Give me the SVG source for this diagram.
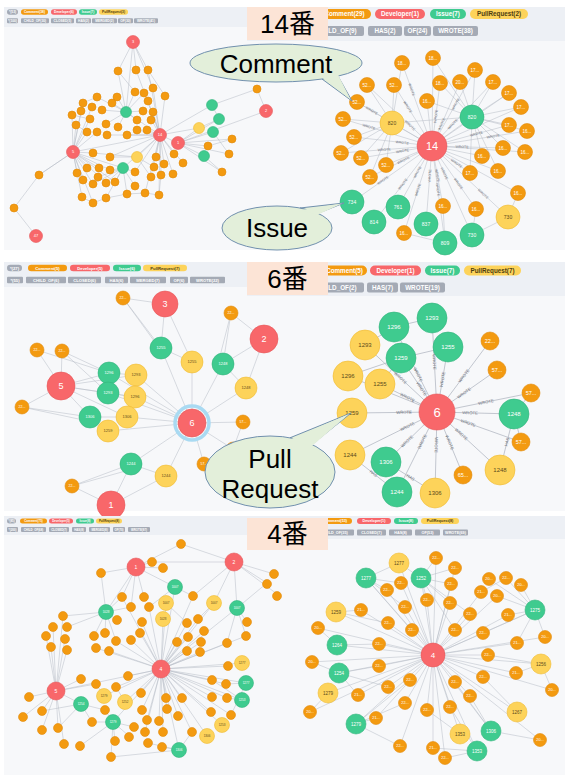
<svg xmlns="http://www.w3.org/2000/svg" width="568" height="780" viewBox="0 0 568 780">
<style>
.bg{fill:#f7f8fa}.hd{fill:#edf0f5}
.o{fill:#f39a10;stroke:#e0890a;stroke-width:.6}
.r{fill:#f8676a;stroke:#e65759;stroke-width:.6}
.g{fill:#3fcb8f;stroke:#32b47c;stroke-width:.6}
.y{fill:#fdd35a;stroke:#f0bb30;stroke-width:.6}
.e{stroke:#b5bac4;stroke-width:.5;fill:none}
.e2{stroke:#aab0bb;stroke-width:.7;fill:none}
.t{font-family:"Liberation Sans",Arial,sans-serif;text-anchor:middle;fill:#fff}
.k{fill:#5b4a1c}
.el{font-family:"Liberation Sans",Arial,sans-serif;text-anchor:middle;fill:#6d717a}
.a3{font-size:3px}.a35{font-size:3.5px}.a38{font-size:3.8px}.a4{font-size:4px}.a42{font-size:4.2px}.a45{font-size:4.5px}.a5{font-size:5px}.a55{font-size:5.5px}.a6{font-size:6px}.a8{font-size:8px}.a9{font-size:9px}.a11{font-size:11px}.a13{font-size:13px}
.lg{font-family:"Liberation Sans",Arial,sans-serif;font-weight:bold;text-anchor:middle;fill:#fff}
.lk{fill:#4d3d10}
.pg{fill:#a4aab5}.po{fill:#f39a10}.pr{fill:#f8676a}.pn{fill:#3fcb8f}.py{fill:#fdd35a}
.box{fill:#fce4d6}
.big{font-family:"Liberation Sans","Noto Sans CJK JP",sans-serif;font-size:26px;fill:#000;text-anchor:middle}
.cl{fill:#e3efda;stroke:#7190ae;stroke-width:1}
.cf{fill:#e3efda}
</style>
<defs>
<clipPath id="clip2"><rect x="0" y="255" width="568" height="261"/></clipPath>
</defs>
<rect width="568" height="780" fill="#fff"/>
<g id="backgrounds">
<rect class="bg" x="4" y="7" width="561" height="243"/>
<rect class="hd" x="4" y="7" width="243" height="20"/>
<rect class="hd" x="247" y="7" width="318" height="34"/>
<rect class="bg" x="4" y="262" width="561" height="249"/>
<rect class="hd" x="4" y="262" width="243" height="25"/>
<rect class="hd" x="247" y="262" width="318" height="34"/>
</g>

<g id="connectors">
<g id="c-p1l">
<path class="e" stroke-width=".4" d="M160 135L136 70M160 135L148 70M160 135L153 88M160 135L165 96M160 135L148 101M160 135L153 112M160 135L151 119M160 135L147 130M160 135L137 130M160 135L127 135M160 135L107 135M160 135L73 152M160 135L199 128M160 135L212 105M160 135L137 157M160 135L156 157M160 135L164 164M160 135L174 154M160 135L183 163M160 135L173 174M160 135L161 175M160 135L151 177M160 135L135 172M160 135L159 195M160 135L145 193M160 135L123 168M160 135L110 157M160 135L126 112M160 135L178 143M73 152L72 115M73 152L76 125M73 152L81 111M73 152L83 103M73 152L87 132M73 152L97 132M73 152L92 107M73 152L90 119M73 152L93 153M73 152L87 168M73 152L77 173M73 152L83 180M73 152L82 197M73 152L93 203M73 152L99 168M73 152L110 170M73 152L39 175M73 152L123 168M73 152L106 183M73 152L115 182M126 112L117 97M126 112L112 103M126 112L102 110M126 112L106 124M126 112L118 127M126 112L137 120M126 112L143 111M126 112L135 92M126 112L144 93M126 112L97 97M126 112L133 42M126 112L118 71M133 42L118 71M133 42L136 70M133 42L148 70M133 42L153 88M123 168L135 172M123 168L135 186M123 168L127 194M123 168L110 170M123 168L106 183M123 168L115 182M123 168L98 177M123 168L106 198M137 157L110 157M137 157L93 153M137 157L154 167M137 157L151 177M82 197L93 203L106 198L127 194L145 193L159 195L161 175M178 143L199 128M178 143L213 132M178 143L204 156M178 143L208 146M178 143L222 172M178 143L229 154M178 143L232 139M178 143L219 119M178 143L266 111M266 111L257 89L212 105M212 105L219 119M219 119L199 128M213 132L229 154M204 156L222 172M208 146L232 139M36 236L14 208L39 175L73 152M118 71L135 92M148 70L165 96M83 103L97 97M72 115L90 119M76 125L87 132M93 184L123 168M93 184L73 152"/>
</g>
<g id="c-p1r">
<path class="e" d="M357 102L392 123M367 85L392 123M394 85L392 123M343 119L392 123M354 137L392 123M341 153L392 123M361 158L392 123M386 165L392 123M370 177L392 123M402 63L392 123M433 58L472 117M440 83L472 117M460 82L472 117M475 70L472 117M493 82L472 117M509 93L472 117M521 107L472 117M509 125L472 117M527 131L472 117M503 148L472 117M525 152L472 117M482 156L472 117M498 171L472 117M470 173L472 117M427 101L472 117M518 193L508 217M476 209L472 235M443 206L445 243M404 233L445 243M508 217L472 235M392 123L472 117"/>
<path id="w1" class="e" d="M392 123L432 146"/><path id="w2" class="e" d="M352 202L432 146"/><path id="w3" class="e" d="M374 222L432 146"/><path id="w4" class="e" d="M398 207L432 146"/><path id="w5" class="e" d="M426 224L432 146"/><path id="w6" class="e" d="M357 102L432 146"/><path id="w7" class="e" d="M367 85L432 146"/><path id="w8" class="e" d="M394 85L432 146"/><path id="w9" class="e" d="M343 119L432 146"/><path id="w10" class="e" d="M354 137L432 146"/><path id="w11" class="e" d="M341 153L432 146"/><path id="w12" class="e" d="M361 158L432 146"/><path id="w13" class="e" d="M386 165L432 146"/><path id="w14" class="e" d="M370 177L432 146"/><path id="w15" class="e" d="M402 63L432 146"/><path id="w16" class="e" d="M427 101L432 146"/><path id="w17" class="e" d="M404 233L432 146"/><path id="w18" class="e" d="M433 58L432 146"/><path id="w19" class="e" d="M432 146L472 117"/><path id="w20" class="e" d="M432 146L445 243"/><path id="w21" class="e" d="M432 146L472 235"/><path id="w22" class="e" d="M432 146L508 217"/><path id="w23" class="e" d="M432 146L440 83"/><path id="w24" class="e" d="M432 146L460 82"/><path id="w25" class="e" d="M432 146L475 70"/><path id="w26" class="e" d="M432 146L493 82"/><path id="w27" class="e" d="M432 146L509 93"/><path id="w28" class="e" d="M432 146L521 107"/><path id="w29" class="e" d="M432 146L509 125"/><path id="w30" class="e" d="M432 146L470 173"/><path id="w31" class="e" d="M432 146L527 131"/><path id="w32" class="e" d="M432 146L503 148"/><path id="w33" class="e" d="M432 146L525 152"/><path id="w34" class="e" d="M432 146L482 156"/><path id="w35" class="e" d="M432 146L498 171"/><path id="w36" class="e" d="M432 146L518 193"/><path id="w37" class="e" d="M432 146L476 209"/><path id="w38" class="e" d="M432 146L443 206"/>
<g class="el a35">
<text dy="1.2"><textPath href="#w2" startOffset="37.7">WROTE</textPath></text><text dy="1.2"><textPath href="#w3" startOffset="47.6">WROTE</textPath></text><text dy="1.2"><textPath href="#w4" startOffset="39.8">WROTE</textPath></text><text dy="1.2"><textPath href="#w5" startOffset="48.2">WROTE</textPath></text><text dy="1.2"><textPath href="#w6" startOffset="17">WROTE</textPath></text><text dy="1.2"><textPath href="#w7" startOffset="59.1">WROTE</textPath></text><text dy="1.2"><textPath href="#w8" startOffset="25.9">WROTE</textPath></text><text dy="1.2"><textPath href="#w9" startOffset="27">WROTE</textPath></text><text dy="1.2"><textPath href="#w10" startOffset="48.5">WROTE</textPath></text><text dy="1.2"><textPath href="#w11" startOffset="43.3">WROTE</textPath></text><text dy="1.2"><textPath href="#w12" startOffset="42">WROTE</textPath></text><text dy="1.2"><textPath href="#w14" startOffset="37.3">WROTE</textPath></text><text dy="1.2"><textPath href="#w15" startOffset="28.3">WROTE</textPath></text><text dy="1.2"><textPath href="#w17" startOffset="45.4">WROTE</textPath></text><text dy="1.2"><textPath href="#w20" startOffset="44">WROTE</textPath></text><text dy="1.2"><textPath href="#w21" startOffset="30">WROTE</textPath></text><text dy="1.2"><textPath href="#w22" startOffset="70">WROTE</textPath></text><text dy="1.2"><textPath href="#w23" startOffset="30">WROTE</textPath></text><text dy="1.2"><textPath href="#w24" startOffset="24">WROTE</textPath></text><text dy="1.2"><textPath href="#w25" startOffset="48">WROTE</textPath></text><text dy="1.2"><textPath href="#w26" startOffset="30">WROTE</textPath></text><text dy="1.2"><textPath href="#w29" startOffset="46">WROTE</textPath></text><text dy="1.2"><textPath href="#w30" startOffset="30">WROTE</textPath></text><text dy="1.2"><textPath href="#w31" startOffset="62">WROTE</textPath></text><text dy="1.2"><textPath href="#w32" startOffset="30">WROTE</textPath></text><text dy="1.2"><textPath href="#w37" startOffset="46">WROTE</textPath></text><text dy="1.2"><textPath href="#w38" startOffset="30">WROTE</textPath></text>
</g>
</g>
<g id="c-p2l" clip-path="url(#clip2)">
<path class="e" d="M165 304L123 298M165 304L161 348M165 304L192 362M123 298L161 348M123 298L157 345M192 362L161 348M192 423L192 362M192 423L161 348M264 339L231 313M264 339L223 364M264 339L246 388M231 313L223 364M231 313L219 360M246 388L223 364M192 423L246 388M192 423L223 364M61 386L37 350M61 386L62 351M61 386L109 373M61 386L108 393M61 386L90 417M61 386L22 407M61 386L136 375M61 386L135 397M61 386L127 417M37 350L109 373M62 351L109 373M62 351L108 393M22 407L90 417M22 407L88 421M136 375L109 373M135 397L108 393M127 417L90 417M108 431L90 417M192 423L136 375M192 423L135 397M192 423L127 417M192 423L108 431M192 423L109 373M192 423L108 393M192 423L131 464M192 423L243 422M192 423L233 449M192 423L204 464M192 423L166 476M233 449L243 422M204 464L233 449M111 505L72 486M111 505L131 464M111 505L166 476M72 486L131 464M72 486L129 470M166 476L131 464"/>
</g>
<g id="c-p2r">
<path class="e2" d="M365 345L394 327M394 327L432 318M448 347L401 358M531 393L514 414M521 442L514 414M348 376L401 358M380 384L401 358"/>
<path id="v1" class="e2" d="M394 327L437 412"/><path id="v2" class="e2" d="M401 358L437 412"/><path id="v3" class="e2" d="M386 462L437 412"/><path id="v4" class="e2" d="M397 492L437 412"/><path id="v5" class="e2" d="M365 345L437 412"/><path id="v6" class="e2" d="M348 376L437 412"/><path id="v7" class="e2" d="M380 384L437 412"/><path id="v8" class="e2" d="M352 413L437 412"/><path id="v9" class="e2" d="M350 455L437 412"/><path id="v10" class="e2" d="M437 412L435 493"/><path id="v11" class="e2" d="M432 318L437 412"/><path id="v12" class="e2" d="M437 412L448 347"/><path id="v13" class="e2" d="M437 412L514 414"/><path id="v14" class="e2" d="M437 412L500 470"/><path id="v15" class="e2" d="M437 412L490 341"/><path id="v16" class="e2" d="M437 412L497 370"/><path id="v17" class="e2" d="M437 412L531 393"/><path id="v18" class="e2" d="M437 412L521 442"/><path id="v19" class="e2" d="M437 412L463 475"/>
<path id="h1" class="e2" d="M350 455L397 492"/><path id="h2" class="e2" d="M386 462L435 493"/><path id="h3" class="e2" d="M500 470L514 414"/>
<g class="el a42">
<text dy="1.4"><textPath href="#v1" startOffset="53.3">WROTE</textPath></text><text dy="1.4"><textPath href="#v2" startOffset="36.9">WROTE</textPath></text><text dy="1.4"><textPath href="#v3" startOffset="29.4">WROTE</textPath></text><text dy="1.4"><textPath href="#v4" startOffset="56.4">WROTE</textPath></text><text dy="1.4"><textPath href="#v5" startOffset="48.4">WROTE</textPath></text><text dy="1.4"><textPath href="#v7" startOffset="30.5">WROTE</textPath></text><text dy="1.4"><textPath href="#v8" startOffset="52">WROTE</textPath></text><text dy="1.4"><textPath href="#v9" startOffset="64">WROTE</textPath></text><text dy="1.4"><textPath href="#v10" startOffset="33">WROTE</textPath></text><text dy="1.4"><textPath href="#v11" startOffset="44.1">WROTE</textPath></text><text dy="1.4"><textPath href="#v12" startOffset="33">WROTE</textPath></text><text dy="1.4"><textPath href="#v13" startOffset="33">WROTE</textPath></text><text dy="1.4"><textPath href="#v14" startOffset="33">WROTE</textPath></text><text dy="1.4"><textPath href="#v15" startOffset="45">WROTE</textPath></text><text dy="1.4"><textPath href="#v16" startOffset="33">WROTE</textPath></text><text dy="1.4"><textPath href="#v17" startOffset="50">WROTE</textPath></text><text dy="1.4"><textPath href="#v18" startOffset="33">WROTE</textPath></text><text dy="1.4"><textPath href="#v19" startOffset="33">WROTE</textPath></text>
<text dy="1.4"><textPath href="#h1" startOffset="50%">HAS</textPath></text><text dy="1.4"><textPath href="#h2" startOffset="50%">HAS</textPath></text><text dy="1.4"><textPath href="#h3" startOffset="50%">HAS</textPath></text>
</g>
</g>
</g>

<g id="nodes-p1l">
<g id="p1l-o"><circle class="o" cx="118" cy="71" r="4"/><circle class="o" cx="136" cy="70" r="4"/><circle class="o" cx="148" cy="70" r="4"/><circle class="o" cx="135" cy="92" r="4"/><circle class="o" cx="144" cy="93" r="4"/><circle class="o" cx="153" cy="88" r="4"/><circle class="o" cx="165" cy="96" r="4"/><circle class="o" cx="97" cy="97" r="4"/><circle class="o" cx="117" cy="97" r="4"/><circle class="o" cx="148" cy="101" r="4"/><circle class="o" cx="83" cy="103" r="4"/><circle class="o" cx="92" cy="107" r="4"/><circle class="o" cx="81" cy="111" r="4"/><circle class="o" cx="72" cy="115" r="4"/><circle class="o" cx="102" cy="110" r="4"/><circle class="o" cx="112" cy="103" r="4"/><circle class="o" cx="143" cy="111" r="4"/><circle class="o" cx="153" cy="112" r="4"/><circle class="o" cx="90" cy="119" r="4"/><circle class="o" cx="137" cy="120" r="4"/><circle class="o" cx="151" cy="120" r="4"/><circle class="o" cx="76" cy="125" r="4"/><circle class="o" cx="87" cy="132" r="4"/><circle class="o" cx="97" cy="132" r="4"/><circle class="o" cx="107" cy="135" r="4"/><circle class="o" cx="118" cy="127" r="4"/><circle class="o" cx="127" cy="135" r="4"/><circle class="o" cx="137" cy="130" r="4"/><circle class="o" cx="147" cy="130" r="4"/><circle class="o" cx="106" cy="124" r="4"/><circle class="o" cx="93" cy="153" r="4"/><circle class="o" cx="110" cy="157" r="4"/><circle class="o" cx="99" cy="168" r="4"/><circle class="o" cx="87" cy="168" r="4"/><circle class="o" cx="77" cy="173" r="4"/><circle class="o" cx="110" cy="170" r="4"/><circle class="o" cx="135" cy="172" r="4"/><circle class="o" cx="83" cy="180" r="4"/><circle class="o" cx="93" cy="184" r="4"/><circle class="o" cx="98" cy="177" r="4"/><circle class="o" cx="106" cy="183" r="4"/><circle class="o" cx="115" cy="182" r="4"/><circle class="o" cx="135" cy="186" r="4"/><circle class="o" cx="151" cy="177" r="4"/><circle class="o" cx="161" cy="175" r="4"/><circle class="o" cx="156" cy="157" r="4"/><circle class="o" cx="154" cy="167" r="4"/><circle class="o" cx="164" cy="164" r="4"/><circle class="o" cx="173" cy="174" r="4"/><circle class="o" cx="174" cy="154" r="4"/><circle class="o" cx="183" cy="163" r="4"/><circle class="o" cx="82" cy="197" r="4"/><circle class="o" cx="93" cy="203" r="4"/><circle class="o" cx="106" cy="198" r="4"/><circle class="o" cx="127" cy="194" r="4"/><circle class="o" cx="145" cy="193" r="4"/><circle class="o" cx="159" cy="195" r="4"/><circle class="o" cx="208" cy="146" r="4"/><circle class="o" cx="222" cy="172" r="4"/><circle class="o" cx="229" cy="154" r="4"/><circle class="o" cx="232" cy="139" r="4"/><circle class="o" cx="257" cy="89" r="4"/><circle class="o" cx="39" cy="175" r="4"/><circle class="o" cx="14" cy="208" r="4"/></g>
<g id="p1l-g"><circle class="g" cx="126" cy="112" r="5.5"/><circle class="g" cx="212" cy="105" r="5.5"/><circle class="g" cx="219" cy="119" r="5.5"/><circle class="g" cx="213" cy="132" r="5.5"/><circle class="g" cx="204" cy="156" r="5.5"/><circle class="g" cx="123" cy="168" r="5.5"/></g>
<g id="p1l-y"><circle class="y" cx="199" cy="128" r="5.5"/><circle class="y" cx="137" cy="157" r="5.5"/></g>
<g id="p1l-r3"><circle class="r" cx="133" cy="42" r="6.5"/><text class="t a4" x="133" y="43.4">3</text></g>
<g id="p1l-r2"><circle class="r" cx="266" cy="111" r="6.5"/><text class="t a4" x="266" y="112.4">2</text></g>
<g id="p1l-r14"><circle class="r" cx="160" cy="135" r="6.5"/><text class="t a4" x="160" y="136.4">14</text></g>
<g id="p1l-r1"><circle class="r" cx="178" cy="143" r="6.5"/><text class="t a4" x="178" y="144.4">1</text></g>
<g id="p1l-r5"><circle class="r" cx="73" cy="152" r="6.5"/><text class="t a4" x="73" y="153.4">5</text></g>
<g id="p1l-r47"><circle class="r" cx="36" cy="236" r="6.5"/><text class="t a4" x="36" y="237.4">47</text></g>
</g>

<g id="nodes-p1r">
<g id="p1r-14"><circle class="r" cx="432" cy="146" r="15"/><text class="t a11" x="432" y="150">14</text></g>
<g id="p1r-y820"><circle class="y" cx="392" cy="123" r="12"/><text class="t k a5" x="392" y="124.8">820</text></g>
<g id="p1r-g820"><circle class="g" cx="472" cy="117" r="12"/><text class="t a5" x="472" y="118.8">820</text></g>
<g id="p1r-g734"><circle class="g" cx="352" cy="202" r="12"/><text class="t a5" x="352" y="203.8">734</text></g>
<g id="p1r-g814"><circle class="g" cx="374" cy="222" r="12"/><text class="t a5" x="374" y="223.8">814</text></g>
<g id="p1r-g761"><circle class="g" cx="398" cy="207" r="12"/><text class="t a5" x="398" y="208.8">761</text></g>
<g id="p1r-g837"><circle class="g" cx="426" cy="224" r="12"/><text class="t a5" x="426" y="225.8">837</text></g>
<g id="p1r-g809"><circle class="g" cx="445" cy="243" r="12"/><text class="t a5" x="445" y="244.8">809</text></g>
<g id="p1r-g730"><circle class="g" cx="472" cy="235" r="12"/><text class="t a5" x="472" y="236.8">730</text></g>
<g id="p1r-y730"><circle class="y" cx="508" cy="217" r="12"/><text class="t k a5" x="508" y="218.8">730</text></g>
<g id="p1r-o1"><circle class="o" cx="357" cy="102" r="7.5"/><text class="t a45" x="357" y="103.6">52...</text></g>
<g id="p1r-o2"><circle class="o" cx="367" cy="85" r="7.5"/><text class="t a45" x="367" y="86.6">52...</text></g>
<g id="p1r-o3"><circle class="o" cx="394" cy="85" r="7.5"/><text class="t a45" x="394" y="86.6">52...</text></g>
<g id="p1r-o4"><circle class="o" cx="343" cy="119" r="7.5"/><text class="t a45" x="343" y="120.6">52...</text></g>
<g id="p1r-o5"><circle class="o" cx="354" cy="137" r="7.5"/><text class="t a45" x="354" y="138.6">52...</text></g>
<g id="p1r-o6"><circle class="o" cx="341" cy="153" r="7.5"/><text class="t a45" x="341" y="154.6">52...</text></g>
<g id="p1r-o7"><circle class="o" cx="361" cy="158" r="7.5"/><text class="t a45" x="361" y="159.6">52...</text></g>
<g id="p1r-o8"><circle class="o" cx="386" cy="165" r="7.5"/><text class="t a45" x="386" y="166.6">52...</text></g>
<g id="p1r-o9"><circle class="o" cx="370" cy="177" r="7.5"/><text class="t a45" x="370" y="178.6">52...</text></g>
<g id="p1r-o10"><circle class="o" cx="402" cy="63" r="7.5"/><text class="t a45" x="402" y="64.6">18...</text></g>
<g id="p1r-o11"><circle class="o" cx="433" cy="58" r="7.5"/><text class="t a45" x="433" y="59.6">18...</text></g>
<g id="p1r-o12"><circle class="o" cx="440" cy="83" r="7.5"/><text class="t a45" x="440" y="84.6">18...</text></g>
<g id="p1r-o13"><circle class="o" cx="460" cy="82" r="7.5"/><text class="t a45" x="460" y="83.6">20...</text></g>
<g id="p1r-o14"><circle class="o" cx="475" cy="70" r="7.5"/><text class="t a45" x="475" y="71.6">17...</text></g>
<g id="p1r-o15"><circle class="o" cx="493" cy="82" r="7.5"/><text class="t a45" x="493" y="83.6">17...</text></g>
<g id="p1r-o16"><circle class="o" cx="509" cy="93" r="7.5"/><text class="t a45" x="509" y="94.6">17...</text></g>
<g id="p1r-o17"><circle class="o" cx="521" cy="107" r="7.5"/><text class="t a45" x="521" y="108.6">17...</text></g>
<g id="p1r-o18"><circle class="o" cx="509" cy="125" r="7.5"/><text class="t a45" x="509" y="126.6">17...</text></g>
<g id="p1r-o19"><circle class="o" cx="470" cy="173" r="7.5"/><text class="t a45" x="470" y="174.6">17...</text></g>
<g id="p1r-o20"><circle class="o" cx="427" cy="101" r="7.5"/><text class="t a45" x="427" y="102.6">16...</text></g>
<g id="p1r-o21"><circle class="o" cx="527" cy="131" r="7.5"/><text class="t a45" x="527" y="132.6">16...</text></g>
<g id="p1r-o22"><circle class="o" cx="503" cy="148" r="7.5"/><text class="t a45" x="503" y="149.6">16...</text></g>
<g id="p1r-o23"><circle class="o" cx="525" cy="152" r="7.5"/><text class="t a45" x="525" y="153.6">16...</text></g>
<g id="p1r-o24"><circle class="o" cx="482" cy="156" r="7.5"/><text class="t a45" x="482" y="157.6">16...</text></g>
<g id="p1r-o25"><circle class="o" cx="498" cy="171" r="7.5"/><text class="t a45" x="498" y="172.6">16...</text></g>
<g id="p1r-o26"><circle class="o" cx="518" cy="193" r="7.5"/><text class="t a45" x="518" y="194.6">16...</text></g>
<g id="p1r-o27"><circle class="o" cx="476" cy="209" r="7.5"/><text class="t a45" x="476" y="210.6">16...</text></g>
<g id="p1r-o28"><circle class="o" cx="443" cy="206" r="7.5"/><text class="t a45" x="443" y="207.6">16...</text></g>
<g id="p1r-o29"><circle class="o" cx="404" cy="233" r="7.5"/><text class="t a45" x="404" y="234.6">16...</text></g>
</g>

<g id="nodes-p2l" clip-path="url(#clip2)">
<g id="p2l-r3"><circle class="r" cx="165" cy="304" r="13"/><text class="t a9" x="165" y="307.2">3</text></g>
<g id="p2l-r2"><circle class="r" cx="264" cy="339" r="14"/><text class="t a9" x="264" y="342.2">2</text></g>
<g id="p2l-r5"><circle class="r" cx="61" cy="386" r="14"/><text class="t a9" x="61" y="389.2">5</text></g>
<g id="p2l-r6"><circle cx="192" cy="423" r="17" fill="none" stroke="#a9daf2" stroke-width="3.5"/><circle class="r" cx="192" cy="423" r="14"/><text class="t a9" x="192" y="426.2">6</text></g>
<g id="p2l-r1"><circle class="r" cx="111" cy="505" r="14"/><text class="t a9" x="111" y="508.2">1</text></g>
<g id="p2l-g1255"><circle class="g" cx="161" cy="348" r="11"/><text class="t a4" x="161" y="349.4">1255</text></g>
<g id="p2l-g1248"><circle class="g" cx="223" cy="364" r="11"/><text class="t a4" x="223" y="365.4">1248</text></g>
<g id="p2l-g1296"><circle class="g" cx="109" cy="373" r="11"/><text class="t a4" x="109" y="374.4">1296</text></g>
<g id="p2l-g1293"><circle class="g" cx="108" cy="393" r="11"/><text class="t a4" x="108" y="394.4">1293</text></g>
<g id="p2l-g1306"><circle class="g" cx="90" cy="417" r="11"/><text class="t a4" x="90" y="418.4">1306</text></g>
<g id="p2l-g1244"><circle class="g" cx="131" cy="464" r="11"/><text class="t a4" x="131" y="465.4">1244</text></g>
<g id="p2l-y1255"><circle class="y" cx="192" cy="362" r="11"/><text class="t k a4" x="192" y="363.4">1255</text></g>
<g id="p2l-y1293"><circle class="y" cx="136" cy="375" r="11"/><text class="t k a4" x="136" y="376.4">1293</text></g>
<g id="p2l-y1296"><circle class="y" cx="135" cy="397" r="11"/><text class="t k a4" x="135" y="398.4">1296</text></g>
<g id="p2l-y1306"><circle class="y" cx="127" cy="417" r="11"/><text class="t k a4" x="127" y="418.4">1306</text></g>
<g id="p2l-y1259"><circle class="y" cx="108" cy="431" r="11"/><text class="t k a4" x="108" y="432.4">1259</text></g>
<g id="p2l-y1248"><circle class="y" cx="246" cy="388" r="11"/><text class="t k a4" x="246" y="389.4">1248</text></g>
<g id="p2l-y1244"><circle class="y" cx="166" cy="476" r="11"/><text class="t k a4" x="166" y="477.4">1244</text></g>
<g id="p2l-o1"><circle class="o" cx="123" cy="298" r="7"/><text class="t a35" x="123" y="299.2">22...</text></g>
<g id="p2l-o2"><circle class="o" cx="231" cy="313" r="7"/><text class="t a35" x="231" y="314.2">22...</text></g>
<g id="p2l-o3"><circle class="o" cx="37" cy="350" r="7"/><text class="t a35" x="37" y="351.2">22...</text></g>
<g id="p2l-o4"><circle class="o" cx="62" cy="351" r="7"/><text class="t a35" x="62" y="352.2">22...</text></g>
<g id="p2l-o5"><circle class="o" cx="22" cy="407" r="7"/><text class="t a35" x="22" y="408.2">22...</text></g>
<g id="p2l-o6"><circle class="o" cx="243" cy="422" r="7"/><text class="t a35" x="243" y="423.2">57...</text></g>
<g id="p2l-o7"><circle class="o" cx="233" cy="449" r="7"/><text class="t a35" x="233" y="450.2">57...</text></g>
<g id="p2l-o8"><circle class="o" cx="204" cy="464" r="7"/><text class="t a35" x="204" y="465.2">57...</text></g>
<g id="p2l-o9"><circle class="o" cx="72" cy="486" r="7"/><text class="t a35" x="72" y="487.2">22...</text></g>
</g>

<g id="nodes-p2r">
<g id="p2r-6"><circle class="r" cx="437" cy="412" r="18"/><text class="t a13" x="437" y="416.6">6</text></g>
<g id="p2r-g1296"><circle class="g" cx="394" cy="327" r="15"/><text class="t a6" x="394" y="329.1">1296</text></g>
<g id="p2r-g1293"><circle class="g" cx="432" cy="318" r="15"/><text class="t a6" x="432" y="320.1">1293</text></g>
<g id="p2r-g1255"><circle class="g" cx="448" cy="347" r="15"/><text class="t a6" x="448" y="349.1">1255</text></g>
<g id="p2r-g1259"><circle class="g" cx="401" cy="358" r="15"/><text class="t a6" x="401" y="360.1">1259</text></g>
<g id="p2r-g1248"><circle class="g" cx="514" cy="414" r="15"/><text class="t a6" x="514" y="416.1">1248</text></g>
<g id="p2r-g1306"><circle class="g" cx="386" cy="462" r="15"/><text class="t a6" x="386" y="464.1">1306</text></g>
<g id="p2r-g1244"><circle class="g" cx="397" cy="492" r="15"/><text class="t a6" x="397" y="494.1">1244</text></g>
<g id="p2r-y1293"><circle class="y" cx="365" cy="345" r="15"/><text class="t k a6" x="365" y="347.1">1293</text></g>
<g id="p2r-y1296"><circle class="y" cx="348" cy="376" r="15"/><text class="t k a6" x="348" y="378.1">1296</text></g>
<g id="p2r-y1255"><circle class="y" cx="380" cy="384" r="15"/><text class="t k a6" x="380" y="386.1">1255</text></g>
<g id="p2r-y1259"><circle class="y" cx="352" cy="413" r="15"/><text class="t k a6" x="352" y="415.1">1259</text></g>
<g id="p2r-y1244"><circle class="y" cx="350" cy="455" r="15"/><text class="t k a6" x="350" y="457.1">1244</text></g>
<g id="p2r-y1306"><circle class="y" cx="435" cy="493" r="15"/><text class="t k a6" x="435" y="495.1">1306</text></g>
<g id="p2r-y1248"><circle class="y" cx="500" cy="470" r="15"/><text class="t k a6" x="500" y="472.1">1248</text></g>
<g id="p2r-o22"><circle class="o" cx="490" cy="341" r="9"/><text class="t a55" x="490" y="342.9">22...</text></g>
<g id="p2r-o57a"><circle class="o" cx="497" cy="370" r="9"/><text class="t a55" x="497" y="371.9">57...</text></g>
<g id="p2r-o57b"><circle class="o" cx="531" cy="393" r="9"/><text class="t a55" x="531" y="394.9">57...</text></g>
<g id="p2r-o57c"><circle class="o" cx="521" cy="442" r="9"/><text class="t a55" x="521" y="443.9">57...</text></g>
<g id="p2r-o65"><circle class="o" cx="463" cy="475" r="9"/><text class="t a55" x="463" y="476.9">65...</text></g>
</g>

<g id="panel3">
<rect class="bg" x="4" y="516" width="561" height="259"/>
<rect class="hd" x="4" y="516" width="243" height="19"/>
<rect class="hd" x="247" y="516" width="318" height="23"/>
<g id="c-p3">
<path class="e" stroke-width=".4" d="M161 669L142 622M161 669L140 633M161 669L131 640M161 669L116 641M161 669L109 651M161 669L96 648M161 669L149 607M161 669L163 619M161 669L166 603M161 669L175 587M161 669L187 623M161 669L198 619M161 669L204 631M161 669L188 637M161 669L177 642M161 669L201 642M161 669L187 651M161 669L200 652M161 669L227 643M161 669L246 636M161 669L242 663M161 669L228 666M161 669L246 683M161 669L212 680M161 669L226 684M161 669L212 697M161 669L227 698M161 669L242 700M161 669L231 715M161 669L211 712M161 669L222 725M161 669L207 736M161 669L192 732M161 669L179 750M161 669L178 716M161 669L182 698M161 669L166 698M161 669L167 709M161 669L163 732M161 669L159 721M161 669L147 720M161 669L145 732M161 669L142 710M161 669L141 693M161 669L125 702M161 669L128 676M161 669L116 687M161 669L113 722M161 669L104 696M161 669L56 691M161 669L214 603M161 669L237 608M161 669L193 596M161 669L122 597M56 691L81 679M56 691L96 684M56 691L29 697M56 691L23 717M56 691L42 711M56 691L42 730M56 691L58 728M56 691L81 704M56 691L64 744M56 691L51 647M56 691L67 650M56 691L65 639M56 691L46 636M56 691L53 627M56 691L63 616M106 612L63 616M106 612L67 627M106 612L94 636M106 612L105 633M106 612L117 620M106 612L131 607M106 612L122 597M106 612L101 573M106 612L116 641M136 567L101 573M136 567L152 562M136 567L163 568M136 567L181 544M136 567L122 597M136 567L144 597M136 567L175 587M136 567L106 612M136 567L131 607M152 562L234 562M234 562L181 544M234 562L274 574M234 562L267 583M234 562L277 594M234 562L237 608M234 562L214 603M234 562L193 596M237 608L247 622M237 608L246 636M237 608L227 643M237 608L267 583M81 704L105 710M81 704L92 722M81 704L58 728M81 704L42 711M113 722L115 741M113 722L129 736M113 722L134 727M113 722L92 722M113 722L80 746M113 722L111 757M113 722L105 710M179 750L162 747M179 750L148 743M179 750L192 732M179 750L111 757M246 683L231 715M242 700L227 698M246 683L226 684M242 700L212 680M175 587L149 607M175 587L193 596M166 603L187 623M214 603L198 619M104 696L96 684M125 702L116 687"/>
<path class="e" d="M433 655L366 578M433 655L421 578M433 655L535 610M433 655L337 645M433 655L339 673M433 655L356 724M433 655L477 751M433 655L491 731M433 655L399 563M433 655L336 612M433 655L541 664M433 655L328 693M433 655L460 734M433 655L517 712M433 655L436 558M433 655L455 568M433 655L451 584M433 655L401 583M433 655L387 590M433 655L481 592M433 655L497 596M433 655L488 655M433 655L483 677M433 655L470 696M433 655L450 707M433 655L427 710M433 655L405 703M433 655L388 687M433 655L379 666M433 655L379 644M433 655L388 623M433 655L405 607M433 655L427 600M433 655L450 603M433 655L470 614M433 655L483 633M433 655L516 673M433 655L376 718M433 655L358 695M433 655L361 610M433 655L508 615M433 655L517 643M433 655L400 746M433 655L433 748M433 655L445 758M433 655L318 628M433 655L312 662M433 655L310 712M433 655L545 637M433 655L552 690M433 655L540 740M436 558L421 578M455 568L421 578M451 584L421 578M401 583L366 578M387 590L366 578M489 579L535 610M506 578L535 610M521 585L535 610M481 592L506 578M497 596L535 610M361 610L336 612M318 628L337 645M312 662L339 673M310 712L328 693M376 718L356 724M400 746L356 724M433 748L477 751M445 758L477 751M540 740L491 731M552 690L541 664M545 637L535 610M508 615L535 610M517 643L535 610M516 673L541 664M379 644L337 645M379 666L339 673M388 687L339 673M358 695L339 673M405 703L356 724M427 710L460 734M450 707L477 751M470 696L491 731M483 677L517 712M488 655L541 664M483 633L535 610M470 614L421 578M450 603L421 578M427 600L421 578M405 607L366 578M388 623L336 612M399 563L366 578M399 563L421 578M412 630L366 578M455 630L421 578M410 680L356 724M455 682L491 731"/>
</g>
<g id="nodes-p3l">
<g id="p3l-o"><circle class="o" cx="181" cy="544" r="4.5"/><circle class="o" cx="152" cy="562" r="4.5"/><circle class="o" cx="163" cy="568" r="4.5"/><circle class="o" cx="101" cy="573" r="4.5"/><circle class="o" cx="274" cy="574" r="4.5"/><circle class="o" cx="267" cy="584" r="4.5"/><circle class="o" cx="277" cy="596" r="4.5"/><circle class="o" cx="193" cy="596" r="4.5"/><circle class="o" cx="122" cy="597" r="4.5"/><circle class="o" cx="144" cy="597" r="4.5"/><circle class="o" cx="63" cy="616" r="4.5"/><circle class="o" cx="53" cy="627" r="4.5"/><circle class="o" cx="67" cy="627" r="4.5"/><circle class="o" cx="46" cy="636" r="4.5"/><circle class="o" cx="65" cy="639" r="4.5"/><circle class="o" cx="51" cy="647" r="4.5"/><circle class="o" cx="67" cy="650" r="4.5"/><circle class="o" cx="94" cy="636" r="4.5"/><circle class="o" cx="105" cy="633" r="4.5"/><circle class="o" cx="116" cy="641" r="4.5"/><circle class="o" cx="131" cy="640" r="4.5"/><circle class="o" cx="140" cy="633" r="4.5"/><circle class="o" cx="142" cy="622" r="4.5"/><circle class="o" cx="131" cy="607" r="4.5"/><circle class="o" cx="149" cy="607" r="4.5"/><circle class="o" cx="117" cy="620" r="4.5"/><circle class="o" cx="96" cy="648" r="4.5"/><circle class="o" cx="109" cy="651" r="4.5"/><circle class="o" cx="187" cy="623" r="4.5"/><circle class="o" cx="198" cy="619" r="4.5"/><circle class="o" cx="204" cy="631" r="4.5"/><circle class="o" cx="188" cy="637" r="4.5"/><circle class="o" cx="201" cy="642" r="4.5"/><circle class="o" cx="177" cy="642" r="4.5"/><circle class="o" cx="187" cy="651" r="4.5"/><circle class="o" cx="200" cy="652" r="4.5"/><circle class="o" cx="227" cy="643" r="4.5"/><circle class="o" cx="246" cy="636" r="4.5"/><circle class="o" cx="247" cy="622" r="4.5"/><circle class="o" cx="81" cy="679" r="4.5"/><circle class="o" cx="96" cy="684" r="4.5"/><circle class="o" cx="116" cy="687" r="4.5"/><circle class="o" cx="128" cy="676" r="4.5"/><circle class="o" cx="141" cy="693" r="4.5"/><circle class="o" cx="142" cy="710" r="4.5"/><circle class="o" cx="105" cy="710" r="4.5"/><circle class="o" cx="92" cy="722" r="4.5"/><circle class="o" cx="134" cy="727" r="4.5"/><circle class="o" cx="145" cy="732" r="4.5"/><circle class="o" cx="147" cy="720" r="4.5"/><circle class="o" cx="159" cy="721" r="4.5"/><circle class="o" cx="163" cy="732" r="4.5"/><circle class="o" cx="166" cy="698" r="4.5"/><circle class="o" cx="167" cy="709" r="4.5"/><circle class="o" cx="182" cy="698" r="4.5"/><circle class="o" cx="178" cy="716" r="4.5"/><circle class="o" cx="192" cy="732" r="4.5"/><circle class="o" cx="212" cy="680" r="4.5"/><circle class="o" cx="226" cy="684" r="4.5"/><circle class="o" cx="212" cy="697" r="4.5"/><circle class="o" cx="227" cy="698" r="4.5"/><circle class="o" cx="231" cy="715" r="4.5"/><circle class="o" cx="211" cy="712" r="4.5"/><circle class="o" cx="228" cy="666" r="4.5"/><circle class="o" cx="29" cy="697" r="4.5"/><circle class="o" cx="23" cy="717" r="4.5"/><circle class="o" cx="42" cy="711" r="4.5"/><circle class="o" cx="42" cy="730" r="4.5"/><circle class="o" cx="58" cy="728" r="4.5"/><circle class="o" cx="64" cy="744" r="4.5"/><circle class="o" cx="80" cy="746" r="4.5"/><circle class="o" cx="115" cy="741" r="4.5"/><circle class="o" cx="129" cy="737" r="4.5"/><circle class="o" cx="148" cy="743" r="4.5"/><circle class="o" cx="162" cy="747" r="4.5"/><circle class="o" cx="111" cy="757" r="4.5"/></g>
<g id="p3l-g1007a"><circle class="g" cx="175" cy="587" r="7.5"/><text class="t a3" x="175" y="588">1007</text></g>
<g id="p3l-g1028"><circle class="g" cx="106" cy="612" r="7.5"/><text class="t a3" x="106" y="613">1028</text></g>
<g id="p3l-g1007b"><circle class="g" cx="237" cy="608" r="7.5"/><text class="t a3" x="237" y="609">1007</text></g>
<g id="p3l-g1277"><circle class="g" cx="246" cy="683" r="7.5"/><text class="t a3" x="246" y="684">1277</text></g>
<g id="p3l-g1253"><circle class="g" cx="242" cy="700" r="7.5"/><text class="t a3" x="242" y="701">1253</text></g>
<g id="p3l-g1254"><circle class="g" cx="81" cy="704" r="7.5"/><text class="t a3" x="81" y="705">1254</text></g>
<g id="p3l-g1279"><circle class="g" cx="113" cy="722" r="7.5"/><text class="t a3" x="113" y="723">1279</text></g>
<g id="p3l-g1306"><circle class="g" cx="179" cy="750" r="7.5"/><text class="t a3" x="179" y="751">1306</text></g>
<g id="p3l-y1"><circle class="y" cx="166" cy="603" r="7.5"/><text class="t k a3" x="166" y="604">1007</text></g>
<g id="p3l-y2"><circle class="y" cx="214" cy="603" r="7.5"/><text class="t k a3" x="214" y="604">1007</text></g>
<g id="p3l-y3"><circle class="y" cx="163" cy="619" r="7.5"/><text class="t k a3" x="163" y="620">1028</text></g>
<g id="p3l-y4"><circle class="y" cx="242" cy="663" r="7.5"/><text class="t k a3" x="242" y="664">1277</text></g>
<g id="p3l-y5"><circle class="y" cx="104" cy="696" r="7.5"/><text class="t k a3" x="104" y="697">1279</text></g>
<g id="p3l-y6"><circle class="y" cx="125" cy="702" r="7.5"/><text class="t k a3" x="125" y="703">1252</text></g>
<g id="p3l-y7"><circle class="y" cx="222" cy="725" r="7.5"/><text class="t k a3" x="222" y="726">1253</text></g>
<g id="p3l-y8"><circle class="y" cx="207" cy="736" r="7.5"/><text class="t k a3" x="207" y="737">1306</text></g>
<g id="p3l-r1"><circle class="r" cx="136" cy="567" r="9"/><text class="t a5" x="136" y="568.8">1</text></g>
<g id="p3l-r2"><circle class="r" cx="234" cy="562" r="9"/><text class="t a5" x="234" y="563.8">2</text></g>
<g id="p3l-r4"><circle class="r" cx="161" cy="669" r="9"/><text class="t a5" x="161" y="670.8">4</text></g>
<g id="p3l-r5"><circle class="r" cx="56" cy="691" r="9"/><text class="t a5" x="56" y="692.8">5</text></g>
</g>
<g id="nodes-p3r">
<g id="p3r-o" class="t a38">
<circle class="o" cx="436" cy="558" r="6.5"/><text x="436" y="559.3">22...</text>
<circle class="o" cx="455" cy="568" r="6.5"/><text x="455" y="569.3">22...</text>
<circle class="o" cx="451" cy="584" r="6.5"/><text x="451" y="585.3">22...</text>
<circle class="o" cx="401" cy="583" r="6.5"/><text x="401" y="584.3">22...</text>
<circle class="o" cx="387" cy="590" r="6.5"/><text x="387" y="591.3">22...</text>
<circle class="o" cx="489" cy="579" r="6.5"/><text x="489" y="580.3">20...</text>
<circle class="o" cx="506" cy="578" r="6.5"/><text x="506" y="579.3">22...</text>
<circle class="o" cx="521" cy="585" r="6.5"/><text x="521" y="586.3">20...</text>
<circle class="o" cx="481" cy="592" r="6.5"/><text x="481" y="593.3">21...</text>
<circle class="o" cx="497" cy="596" r="6.5"/><text x="497" y="597.3">20...</text>
<circle class="o" cx="488" cy="655" r="6.5"/><text x="488" y="656.3">22...</text>
<circle class="o" cx="483" cy="677" r="6.5"/><text x="483" y="678.3">22...</text>
<circle class="o" cx="470" cy="696" r="6.5"/><text x="470" y="697.3">22...</text>
<circle class="o" cx="450" cy="707" r="6.5"/><text x="450" y="708.3">22...</text>
<circle class="o" cx="427" cy="710" r="6.5"/><text x="427" y="711.3">22...</text>
<circle class="o" cx="405" cy="703" r="6.5"/><text x="405" y="704.3">22...</text>
<circle class="o" cx="388" cy="687" r="6.5"/><text x="388" y="688.3">22...</text>
<circle class="o" cx="379" cy="666" r="6.5"/><text x="379" y="667.3">22...</text>
<circle class="o" cx="379" cy="644" r="6.5"/><text x="379" y="645.3">22...</text>
<circle class="o" cx="388" cy="623" r="6.5"/><text x="388" y="624.3">22...</text>
<circle class="o" cx="405" cy="607" r="6.5"/><text x="405" y="608.3">22...</text>
<circle class="o" cx="427" cy="600" r="6.5"/><text x="427" y="601.3">22...</text>
<circle class="o" cx="450" cy="603" r="6.5"/><text x="450" y="604.3">22...</text>
<circle class="o" cx="470" cy="614" r="6.5"/><text x="470" y="615.3">22...</text>
<circle class="o" cx="483" cy="633" r="6.5"/><text x="483" y="634.3">22...</text>
<circle class="o" cx="516" cy="673" r="6.5"/><text x="516" y="674.3">21...</text>
<circle class="o" cx="376" cy="718" r="6.5"/><text x="376" y="719.3">21...</text>
<circle class="o" cx="358" cy="695" r="6.5"/><text x="358" y="696.3">21...</text>
<circle class="o" cx="361" cy="610" r="6.5"/><text x="361" y="611.3">21...</text>
<circle class="o" cx="508" cy="615" r="6.5"/><text x="508" y="616.3">21...</text>
<circle class="o" cx="517" cy="643" r="6.5"/><text x="517" y="644.3">21...</text>
<circle class="o" cx="400" cy="746" r="6.5"/><text x="400" y="747.3">22...</text>
<circle class="o" cx="433" cy="748" r="6.5"/><text x="433" y="749.3">21...</text>
<circle class="o" cx="445" cy="758" r="6.5"/><text x="445" y="759.3">22...</text>
<circle class="o" cx="318" cy="628" r="6.5"/><text x="318" y="629.3">20...</text>
<circle class="o" cx="312" cy="662" r="6.5"/><text x="312" y="663.3">20...</text>
<circle class="o" cx="310" cy="712" r="6.5"/><text x="310" y="713.3">20...</text>
<circle class="o" cx="545" cy="637" r="6.5"/><text x="545" y="638.3">20...</text>
<circle class="o" cx="552" cy="690" r="6.5"/><text x="552" y="691.3">20...</text>
<circle class="o" cx="540" cy="740" r="6.5"/><text x="540" y="741.3">20...</text>
<circle class="o" cx="412" cy="630" r="6.5"/><text x="412" y="631.3">22...</text>
<circle class="o" cx="455" cy="630" r="6.5"/><text x="455" y="631.3">22...</text>
<circle class="o" cx="410" cy="680" r="6.5"/><text x="410" y="681.3">22...</text>
<circle class="o" cx="455" cy="682" r="6.5"/><text x="455" y="683.3">22...</text>
</g>
<g id="p3r-g1277"><circle class="g" cx="366" cy="578" r="10"/><text class="t a45" x="366" y="579.6">1277</text></g>
<g id="p3r-g1252"><circle class="g" cx="421" cy="578" r="10"/><text class="t a45" x="421" y="579.6">1252</text></g>
<g id="p3r-g1275"><circle class="g" cx="535" cy="610" r="10"/><text class="t a45" x="535" y="611.6">1275</text></g>
<g id="p3r-g1264"><circle class="g" cx="337" cy="645" r="10"/><text class="t a45" x="337" y="646.6">1264</text></g>
<g id="p3r-g1254"><circle class="g" cx="339" cy="673" r="10"/><text class="t a45" x="339" y="674.6">1254</text></g>
<g id="p3r-g1279"><circle class="g" cx="356" cy="724" r="10"/><text class="t a45" x="356" y="725.6">1279</text></g>
<g id="p3r-g1353"><circle class="g" cx="477" cy="751" r="10"/><text class="t a45" x="477" y="752.6">1353</text></g>
<g id="p3r-g1306"><circle class="g" cx="491" cy="731" r="10"/><text class="t a45" x="491" y="732.6">1306</text></g>
<g id="p3r-y1277"><circle class="y" cx="399" cy="563" r="10"/><text class="t k a45" x="399" y="564.6">1277</text></g>
<g id="p3r-y1259"><circle class="y" cx="336" cy="612" r="10"/><text class="t k a45" x="336" y="613.6">1259</text></g>
<g id="p3r-y1656"><circle class="y" cx="541" cy="664" r="10"/><text class="t k a45" x="541" y="665.6">1256</text></g>
<g id="p3r-y1279"><circle class="y" cx="328" cy="693" r="10"/><text class="t k a45" x="328" y="694.6">1279</text></g>
<g id="p3r-y1353"><circle class="y" cx="460" cy="734" r="10"/><text class="t k a45" x="460" y="735.6">1353</text></g>
<g id="p3r-y1267"><circle class="y" cx="517" cy="712" r="10"/><text class="t k a45" x="517" y="713.6">1267</text></g>
<g id="p3r-4"><circle class="r" cx="433" cy="655" r="12"/><text class="t a8" x="433" y="657.8">4</text></g>
</g>
</g>

<g id="legends">
<g id="lg-p1l" class="lg" font-size="3.3">
<rect class="pg" x="7" y="9.3" width="11" height="5.4" rx="2.7"/><text x="12.5" y="13.2">*(53)</text>
<rect class="po" x="21" y="9.3" width="27" height="5.4" rx="2.7"/><text x="34.5" y="13.2">Comment(38)</text>
<rect class="pr" x="51" y="9.3" width="26" height="5.4" rx="2.7"/><text x="64" y="13.2">Developer(6)</text>
<rect class="pn" x="79" y="9.3" width="18" height="5.4" rx="2.7"/><text x="88" y="13.2">Issue(7)</text>
<rect class="py" x="99" y="9.3" width="29" height="5.4" rx="2.7"/><text class="lk" x="113.5" y="13.2">PullRequest(3)</text>
<rect class="pg" x="7" y="18.3" width="11" height="5" rx="1"/><text x="12.5" y="22">*(100)</text>
<rect class="pg" x="21" y="18.3" width="28" height="5" rx="1"/><text x="35" y="22">CHILD_OF(30)</text>
<rect class="pg" x="51" y="18.3" width="23" height="5" rx="1"/><text x="62.5" y="22">CLOSED(5)</text>
<rect class="pg" x="76" y="18.3" width="15" height="5" rx="1"/><text x="83.5" y="22">HAS(2)</text>
<rect class="pg" x="92" y="18.3" width="25" height="5" rx="1"/><text x="104.5" y="22">MERGED(2)</text>
<rect class="pg" x="118" y="18.3" width="15" height="5" rx="1"/><text x="125.5" y="22">OF(30)</text>
<rect class="pg" x="134" y="18.3" width="24" height="5" rx="1"/><text x="146" y="22">WROTE(41)</text>
</g>
<g id="lg-p1r" class="lg" font-size="6.3">
<rect class="po" x="318" y="9" width="53" height="10" rx="5"/><text x="344.5" y="16.2">Comment(29)</text>
<rect class="pr" x="375" y="9" width="50" height="10" rx="5"/><text x="400" y="16.2">Developer(1)</text>
<rect class="pn" x="430" y="9" width="36" height="10" rx="5"/><text x="448" y="16.2">Issue(7)</text>
<rect class="py" x="470" y="9" width="58" height="10" rx="5"/><text class="lk" x="499" y="16.2">PullRequest(2)</text>
<rect class="pg" x="310" y="26" width="54" height="10" rx="2"/><text x="337" y="33.2">CHILD_OF(9)</text>
<rect class="pg" x="368" y="26" width="34" height="10" rx="2"/><text x="385" y="33.2">HAS(2)</text>
<rect class="pg" x="404" y="26" width="27" height="10" rx="2"/><text x="417.5" y="33.2">OF(24)</text>
<rect class="pg" x="433" y="26" width="45" height="10" rx="2"/><text x="455.5" y="33.2">WROTE(38)</text>
</g>
<g id="lg-p2l" class="lg" font-size="4.2">
<rect class="pg" x="7" y="264.7" width="15" height="6.6" rx="3.3"/><text x="14.5" y="269.5">*(27)</text>
<rect class="po" x="28" y="264.7" width="39" height="6.6" rx="3.3"/><text x="47.5" y="269.5">Comment(5)</text>
<rect class="pr" x="70" y="264.7" width="40" height="6.6" rx="3.3"/><text x="90" y="269.5">Developer(5)</text>
<rect class="pn" x="113" y="264.7" width="28" height="6.6" rx="3.3"/><text x="127" y="269.5">Issue(6)</text>
<rect class="py" x="143" y="264.7" width="44" height="6.6" rx="3.3"/><text class="lk" x="165" y="269.5">PullRequest(7)</text>
<rect class="pg" x="7" y="276.7" width="16" height="6.6" rx="1"/><text x="15" y="281.5">*(55)</text>
<rect class="pg" x="26" y="276.7" width="40" height="6.6" rx="1"/><text x="46" y="281.5">CHILD_OF(6)</text>
<rect class="pg" x="68" y="276.7" width="33" height="6.6" rx="1"/><text x="84.5" y="281.5">CLOSED(6)</text>
<rect class="pg" x="105" y="276.7" width="23" height="6.6" rx="1"/><text x="116.5" y="281.5">HAS(6)</text>
<rect class="pg" x="130" y="276.7" width="36" height="6.6" rx="1"/><text x="148" y="281.5">MERGED(7)</text>
<rect class="pg" x="170" y="276.7" width="18" height="6.6" rx="1"/><text x="179" y="281.5">OF(6)</text>
<rect class="pg" x="190" y="276.7" width="35" height="6.6" rx="1"/><text x="207.5" y="281.5">WROTE(22)</text>
</g>
<g id="lg-p2r" class="lg" font-size="6.3">
<rect class="po" x="322" y="265.5" width="45" height="10" rx="5"/><text x="344.5" y="272.7">Comment(5)</text>
<rect class="pr" x="370" y="265.5" width="51" height="10" rx="5"/><text x="395.5" y="272.7">Developer(1)</text>
<rect class="pn" x="425" y="265.5" width="35" height="10" rx="5"/><text x="442.5" y="272.7">Issue(7)</text>
<rect class="py" x="464" y="265.5" width="57" height="10" rx="5"/><text class="lk" x="492.5" y="272.7">PullRequest(7)</text>
<rect class="pg" x="310" y="282.5" width="54" height="10" rx="2"/><text x="337" y="289.7">CHILD_OF(2)</text>
<rect class="pg" x="367" y="282.5" width="31" height="10" rx="2"/><text x="382.5" y="289.7">HAS(7)</text>
<rect class="pg" x="400" y="282.5" width="45" height="10" rx="2"/><text x="422.5" y="289.7">WROTE(19)</text>
</g>
<g id="lg-p3l" class="lg" font-size="2.9">
<rect class="pg" x="7" y="518.5" width="9" height="5" rx="2.5"/><text x="11.5" y="522">*(85)</text>
<rect class="po" x="20" y="518.5" width="27" height="5" rx="2.5"/><text x="33.5" y="522">Comment(75)</text>
<rect class="pr" x="49" y="518.5" width="24" height="5" rx="2.5"/><text x="61" y="522">Developer(5)</text>
<rect class="pn" x="76" y="518.5" width="18" height="5" rx="2.5"/><text x="85" y="522">Issue(8)</text>
<rect class="py" x="96" y="518.5" width="26" height="5" rx="2.5"/><text class="lk" x="109" y="522">PullRequest(8)</text>
<rect class="pg" x="7" y="527" width="11" height="5" rx="1"/><text x="12.5" y="530.5">*(200)</text>
<rect class="pg" x="21" y="527" width="25" height="5" rx="1"/><text x="33.5" y="530.5">CHILD_OF(68)</text>
<rect class="pg" x="49" y="527" width="20" height="5" rx="1"/><text x="59" y="530.5">CLOSED(7)</text>
<rect class="pg" x="72" y="527" width="14" height="5" rx="1"/><text x="79" y="530.5">HAS(8)</text>
<rect class="pg" x="89" y="527" width="21" height="5" rx="1"/><text x="99.5" y="530.5">MERGED(8)</text>
<rect class="pg" x="113" y="527" width="12" height="5" rx="1"/><text x="119" y="530.5">OF(70)</text>
<rect class="pg" x="128" y="527" width="22" height="5" rx="1"/><text x="139" y="530.5">WROTE(97)</text>
</g>
<g id="lg-p3r" class="lg" font-size="3.8">
<rect class="po" x="318" y="518" width="34" height="6" rx="3"/><text x="335" y="522.3">Comment(53)</text>
<rect class="pr" x="357" y="518" width="34" height="6" rx="3"/><text x="374" y="522.3">Developer(1)</text>
<rect class="pn" x="394" y="518" width="24" height="6" rx="3"/><text x="406" y="522.3">Issue(8)</text>
<rect class="py" x="421" y="518" width="38" height="6" rx="3"/><text class="lk" x="440" y="522.3">PullRequest(8)</text>
<rect class="pg" x="316" y="529.5" width="38" height="6" rx="1"/><text x="335" y="533.8">CHILD_OF(35)</text>
<rect class="pg" x="357" y="529.5" width="29" height="6" rx="1"/><text x="371.5" y="533.8">CLOSED(7)</text>
<rect class="pg" x="389" y="529.5" width="23" height="6" rx="1"/><text x="400.5" y="533.8">HAS(8)</text>
<rect class="pg" x="415" y="529.5" width="25" height="6" rx="1"/><text x="427.5" y="533.8">OF(53)</text>
<rect class="pg" x="443" y="529.5" width="25" height="6" rx="1"/><text x="455.5" y="533.8">WROTE(69)</text>
</g>
</g>

<g id="titles">
<g id="t14"><rect class="box" x="247" y="7" width="81" height="33"/><text class="big" x="287.5" y="33">14番</text></g>
<g id="t6"><rect class="box" x="247" y="262" width="81" height="33"/><text class="big" x="287.5" y="288">6番</text></g>
<g id="t4"><rect class="box" x="247" y="518" width="81" height="32"/><text class="big" x="287.5" y="543">4番</text></g>
</g>

<g id="callouts">
<g id="co-comment">
<path class="cl" d="M322 79L352 101L338 76Z"/>
<ellipse class="cl" cx="276" cy="63" rx="86" ry="19"/>
<path class="cf" d="M322 77.5L338 74.5L350.5 99.5Z"/>
<text class="big" x="276" y="73">Comment</text>
</g>
<g id="co-issue">
<path class="cl" d="M300 208L344 203L318 213.3Z"/>
<ellipse class="cl" cx="277" cy="228" rx="55" ry="22"/>
<path class="cf" d="M301 210L317 215L342 203.5Z"/>
<text class="big" x="277" y="237">Issue</text>
</g>
<g id="co-pr">
<path class="cl" d="M290 437.8L351 413L312 444.5Z"/>
<ellipse class="cl" cx="270" cy="472" rx="65" ry="36"/>
<path class="cf" d="M290 439.5L312 446L349 414Z"/>
<text class="big" x="270" y="468">Pull</text>
<text class="big" x="270" y="498">Request</text>
</g>
</g>
</svg>
